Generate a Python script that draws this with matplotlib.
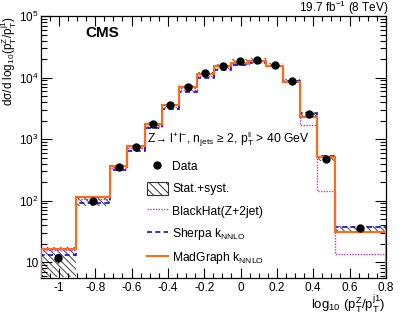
import numpy as np
import matplotlib
matplotlib.use("Agg")
import matplotlib.pyplot as plt
from matplotlib.ticker import FuncFormatter, MultipleLocator, LogLocator, NullFormatter
from matplotlib.patches import Patch
from matplotlib.lines import Line2D

plt.rcParams['font.family'] = ['Liberation Sans', 'DejaVu Sans']
plt.rcParams['mathtext.fontset'] = 'custom'
plt.rcParams['mathtext.rm'] = 'Liberation Sans'
plt.rcParams['mathtext.it'] = 'Liberation Sans'
plt.rcParams['mathtext.bf'] = 'Liberation Sans:bold'
plt.rcParams['axes.unicode_minus'] = False
plt.rcParams['hatch.linewidth'] = 0.7

# ---- data ----
edges = [-1.1, -0.908, -0.718, -0.623, -0.526, -0.434, -0.339, -0.242, -0.145,
         -0.05, 0.046, 0.141, 0.235, 0.33, 0.421, 0.518, 0.8]
data = [11.6, 97, 357, 738, 1775, 3530, 6970, 11750, 15500, 18660, 19640,
        16300, 8940, 2550, 477, 35.7]
data_err_rel = [0.15, 0.03, 0.02, 0.02, 0.01, 0.01, 0.01, 0.01, 0.01, 0.01,
                0.01, 0.01, 0.01, 0.02, 0.03, 0.05]
band_rel = [0.5, 0.14, 0.08, 0.07, 0.07, 0.07, 0.07, 0.07, 0.07, 0.07,
            0.07, 0.07, 0.07, 0.07, 0.08, 0.09]
blackhat = [15.8, 105, 340, 720, 1650, 3350, 6400, 10700, 14300, 16700, 17900,
            15400, 8600, 1710, 145, 13.4]
sherpa = [13.1, 92.5, 319, 651, 1530, 3040, 5820, 9750, 13150, 15850, 17300,
          15500, 8800, 2630, 533, 37.5]
madgraph = [16.4, 116, 370, 787, 1775, 3630, 6970, 11600, 15500, 17600, 18450,
            15300, 8470, 2275, 520, 31.5]

edges_a = np.array(edges)
centers = 0.5 * (edges_a[:-1] + edges_a[1:])
data_a = np.array(data)
band_lo = data_a * (1 - np.array(band_rel))
band_hi = data_a * (1 + np.array(band_rel))

fig = plt.figure(figsize=(4.07, 3.22), dpi=100)
ax = fig.add_axes([0.1, 0.1376, 0.848, 0.8124])

c_orange = '#ff6a13'
c_blue = '#1010c8'
c_mag = '#cc33cc'

ax.stairs(band_hi, edges, baseline=band_lo, fill=True, facecolor='none',
          edgecolor='#444444', hatch='\\\\\\\\\\', linewidth=0, zorder=1)
ax.stairs(blackhat, edges, color=c_mag, linestyle=(0, (1, 1)), linewidth=1.0, zorder=2)
ax.stairs(sherpa, edges, color=c_blue, linestyle=(0, (3, 2)), linewidth=1.2, zorder=3)
ax.stairs(madgraph, edges, color=c_orange, linewidth=1.5, zorder=4)
ax.errorbar(centers, data, yerr=data_a * np.array(data_err_rel), fmt='o',
            color='black', markersize=5, elinewidth=1.0, capsize=0, zorder=5)

ax.set_yscale('log')
ax.set_xlim(-1.1, 0.8)
ax.set_ylim(5.6, 1e5)

def yfmt(v, pos):
    e = int(round(np.log10(v)))
    if e == 1:
        return '10'
    return r'$10^{%d}$' % e

ax.yaxis.set_major_locator(LogLocator(base=10, numticks=10))
ax.yaxis.set_minor_locator(LogLocator(base=10, subs=np.arange(2, 10), numticks=20))
ax.yaxis.set_major_formatter(FuncFormatter(yfmt))
ax.yaxis.set_minor_formatter(NullFormatter())
ax.xaxis.set_major_locator(MultipleLocator(0.2))
ax.xaxis.set_minor_locator(MultipleLocator(0.05))
ax.xaxis.set_major_formatter(FuncFormatter(lambda v, p: '%g' % round(v, 2)))

ax.tick_params(which='both', direction='in', top=True, right=True, labelsize=8.5,
               width=0.8)
ax.tick_params(axis='x', which='major', length=7.5, pad=3)
ax.tick_params(axis='x', which='minor', length=3.8)
ax.tick_params(axis='y', which='major', length=8, pad=1.5)
ax.tick_params(axis='y', which='minor', length=4)
for s in ax.spines.values():
    s.set_linewidth(0.9)

ax.text(0.128, 0.935, 'CMS', transform=ax.transAxes, fontsize=11,
        fontweight='bold', ha='left', va='center')
fig.text(0.955, 0.975, r'19.7 fb$^{-1}$ (8 TeV)', ha='right', va='center', fontsize=8.5)
fig.text(0.948, 0.055, r'log$_{10}$ (p$_{T}^{Z}$/p$_{T}^{j1}$)', ha='right',
         va='center', fontsize=9.5)
fig.text(0.022, 0.95, r'd$\sigma$/d log$_{10}$(p$_{T}^{Z}$/p$_{T}^{j1}$)',
         rotation=90, ha='center', va='top', fontsize=8.5)

ax.text(0.308, 0.53, r'Z→ l$^{+}$l$^{-}$, n$_{jets}$ ≥ 2, p$_{T}^{ll}$ > 40 GeV',
        transform=ax.transAxes, ha='left', va='center', fontsize=8.7)

handles = [
    Line2D([], [], marker='o', color='black', linestyle='none', markersize=5),
    Patch(facecolor='white', edgecolor='#333333', hatch='\\\\\\\\', linewidth=0.8),
    Line2D([], [], color=c_mag, linestyle=(0, (1, 1)), linewidth=1.0),
    Line2D([], [], color=c_blue, linestyle=(0, (3, 2)), linewidth=1.2),
    Line2D([], [], color=c_orange, linewidth=1.5),
]
labels = ['Data', 'Stat.+syst.', 'BlackHat(Z+2jet)', r'Sherpa k$_{NNLO}$',
          r'MadGraph k$_{NNLO}$']
leg = ax.legend(handles, labels, loc='upper left', bbox_to_anchor=(0.308, 0.451),
                frameon=False, fontsize=8.7, handlelength=1.7, handleheight=1.3,
                handletextpad=0.4, labelspacing=0.7, borderpad=0, borderaxespad=0)

fig.savefig('out.png', dpi=100)
